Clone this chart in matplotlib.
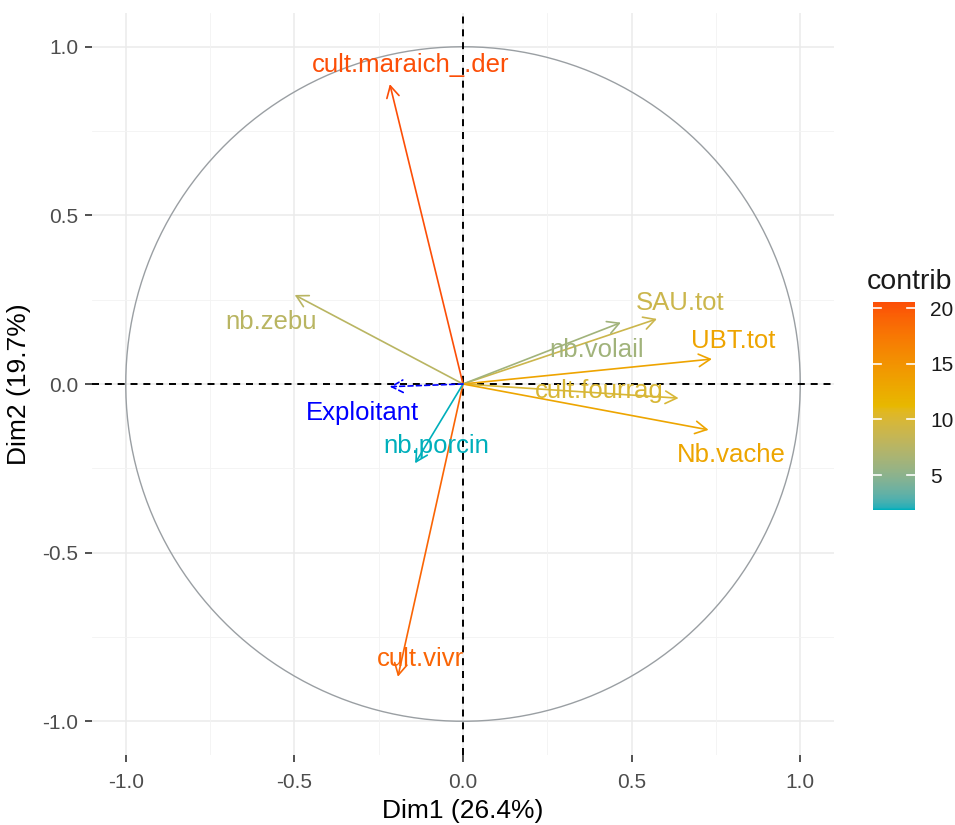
import numpy as np
import matplotlib
matplotlib.use("Agg")
import matplotlib.pyplot as plt
from matplotlib.colors import ListedColormap, Normalize, to_rgb
import matplotlib.colorbar as mcolorbar

plt.rcParams['font.family'] = ['Liberation Sans', 'DejaVu Sans']

# ---- data ----
variables = ["cult.maraich_.der", "cult.vivr", "nb.zebu", "SAU.tot", "nb.volail",
             "UBT.tot", "cult.fourrag", "Nb.vache", "nb.porcin"]
dim1 = [-0.217, -0.193, -0.499, 0.575, 0.468, 0.738, 0.639, 0.728, -0.142]
dim2 = [0.889, -0.868, 0.264, 0.193, 0.182, 0.074, -0.042, -0.136, -0.235]
contrib = [20.54, 19.0, 7.7, 8.9, 6.1, 13.3, 9.9, 13.2, 1.87]

sup_variables = ["Exploitant"]
sup_dim1 = [-0.217]
sup_dim2 = [-0.008]

xlab = "Dim1 (26.4%)"
ylab = "Dim2 (19.7%)"
gradient_cols = ["#00AFBB", "#E7B800", "#FC4E07"]

# label offsets from arrow tips (repelled text layout)
label_offset = {
    "cult.maraich_.der": (0.063, 0.056),
    "cult.vivr": (0.067, 0.053),
    "nb.zebu": (-0.071, -0.080),
    "SAU.tot": (0.069, 0.047),
    "nb.volail": (-0.073, -0.081),
    "UBT.tot": (0.063, 0.053),
    "cult.fourrag": (-0.236, 0.021),
    "Nb.vache": (0.067, -0.074),
    "nb.porcin": (0.062, 0.051),
    "Exploitant": (-0.080, -0.078),
}

# ---- Lab interpolation (like ggplot's colour ramp) ----
def srgb_to_lab(rgb):
    c = np.array(rgb, dtype=float)
    c = np.where(c <= 0.04045, c / 12.92, ((c + 0.055) / 1.055) ** 2.4)
    M = np.array([[0.4124564, 0.3575761, 0.1804375],
                  [0.2126729, 0.7151522, 0.0721750],
                  [0.0193339, 0.1191920, 0.9503041]])
    xyz = M @ c
    white = np.array([0.95047, 1.0, 1.08883])
    t = xyz / white
    f = np.where(t > (6/29) ** 3, np.cbrt(t), t / (3 * (6/29) ** 2) + 4/29)
    return np.array([116 * f[1] - 16, 500 * (f[0] - f[1]), 200 * (f[1] - f[2])])

def lab_to_srgb(lab):
    L, a, b = lab
    fy = (L + 16) / 116
    fx = fy + a / 500
    fz = fy - b / 200
    f = np.array([fx, fy, fz])
    t = np.where(f > 6/29, f ** 3, 3 * (6/29) ** 2 * (f - 4/29))
    white = np.array([0.95047, 1.0, 1.08883])
    xyz = t * white
    Minv = np.array([[3.2404542, -1.5371385, -0.4985314],
                     [-0.9692660, 1.8760108, 0.0415560],
                     [0.0556434, -0.2040259, 1.0572252]])
    c = Minv @ xyz
    c = np.clip(c, 0, 1)
    c = np.where(c <= 0.0031308, 12.92 * c, 1.055 * c ** (1/2.4) - 0.055)
    return np.clip(c, 0, 1)

labs = [srgb_to_lab(to_rgb(c)) for c in gradient_cols]
n = 256
ramp = []
for i in range(n):
    p = i / (n - 1) * (len(labs) - 1)
    k = min(int(p), len(labs) - 2)
    f = p - k
    ramp.append(lab_to_srgb(labs[k] * (1 - f) + labs[k + 1] * f))
cmap = ListedColormap(ramp)
norm = Normalize(vmin=min(contrib), vmax=max(contrib))

fig = plt.figure(figsize=(9.55, 8.25), dpi=100)
ax = fig.add_axes([92/955, 1-755/825, 742/955, 742/825])

# grid
for v in [-1, -0.5, 0, 0.5, 1]:
    ax.axvline(v, color="#EBEBEB", lw=1.1, zorder=0)
    ax.axhline(v, color="#EBEBEB", lw=1.1, zorder=0)
for v in [-0.75, -0.25, 0.25, 0.75]:
    ax.axvline(v, color="#F3F3F3", lw=0.6, zorder=0)
    ax.axhline(v, color="#F3F3F3", lw=0.6, zorder=0)

# circle
t = np.linspace(0, 2*np.pi, 400)
ax.plot(np.cos(t), np.sin(t), color="#9a9fa3", lw=1.0, zorder=1)

# dashed axes
ax.axhline(0, color="black", lw=1.4, ls=(0, (3.6, 3.0)), zorder=2)
ax.axvline(0, color="black", lw=1.4, ls=(0, (3.6, 3.0)), zorder=2)

def draw_arrow(x, y, color, ls="-"):
    ax.annotate("", xy=(x, y), xytext=(0, 0), xycoords="data",
                arrowprops=dict(arrowstyle="->,head_length=0.55,head_width=0.3",
                                color=color, lw=1.2, linestyle=ls,
                                shrinkA=0, shrinkB=0, mutation_scale=15),
                zorder=3)

for name, x, y, c in zip(variables, dim1, dim2, contrib):
    col = cmap(norm(c))
    draw_arrow(x, y, col)
    dx, dy = label_offset[name]
    ax.text(x + dx, y + dy, name, color=col, fontsize=18.5, ha="center", va="center", zorder=4)

for name, x, y in zip(sup_variables, sup_dim1, sup_dim2):
    draw_arrow(x, y, "#0000FF", ls=(0, (3, 2)))
    dx, dy = label_offset[name]
    ax.text(x + dx, y + dy, name, color="#0000FF", fontsize=18.5, ha="center", va="center", zorder=4)

ax.set_xlim(-1.1, 1.1)
ax.set_ylim(-1.1, 1.1)
ax.set_xticks([-1, -0.5, 0, 0.5, 1])
ax.set_yticks([-1, -0.5, 0, 0.5, 1])
ax.set_xticklabels(["-1.0", "-0.5", "0.0", "0.5", "1.0"])
ax.set_yticklabels(["-1.0", "-0.5", "0.0", "0.5", "1.0"])
ax.tick_params(axis="both", length=5, width=1.2, color="#333333",
               labelcolor="#4D4D4D", labelsize=15)
ax.tick_params(axis="x", pad=8)
ax.tick_params(axis="y", pad=5)
for s in ax.spines.values():
    s.set_visible(False)
ax.set_xlabel(xlab, fontsize=19, labelpad=5)
ax.set_ylabel(ylab, fontsize=19, labelpad=8)

# colorbar legend
cax = fig.add_axes([873/955, 1-510/825, 42/955, 208/825])
cb = mcolorbar.ColorbarBase(cax, cmap=cmap, norm=norm, orientation="vertical")
cb.outline.set_visible(False)
cb.set_ticks([5, 10, 15, 20])
cax.tick_params(length=0, labelsize=15, labelcolor="#1a1a1a", pad=11)
tr = cax.get_yaxis_transform()
for v in [5, 10, 15, 20]:
    cax.plot([0, 0.2], [v, v], color="white", lw=1.2, transform=tr)
    cax.plot([0.8, 1], [v, v], color="white", lw=1.2, transform=tr)
fig.text(867/955, 1-282/825, "contrib", fontsize=20.5, ha="left", va="center", color="#1a1a1a")

fig.savefig("out.png", dpi=100, facecolor="white")
